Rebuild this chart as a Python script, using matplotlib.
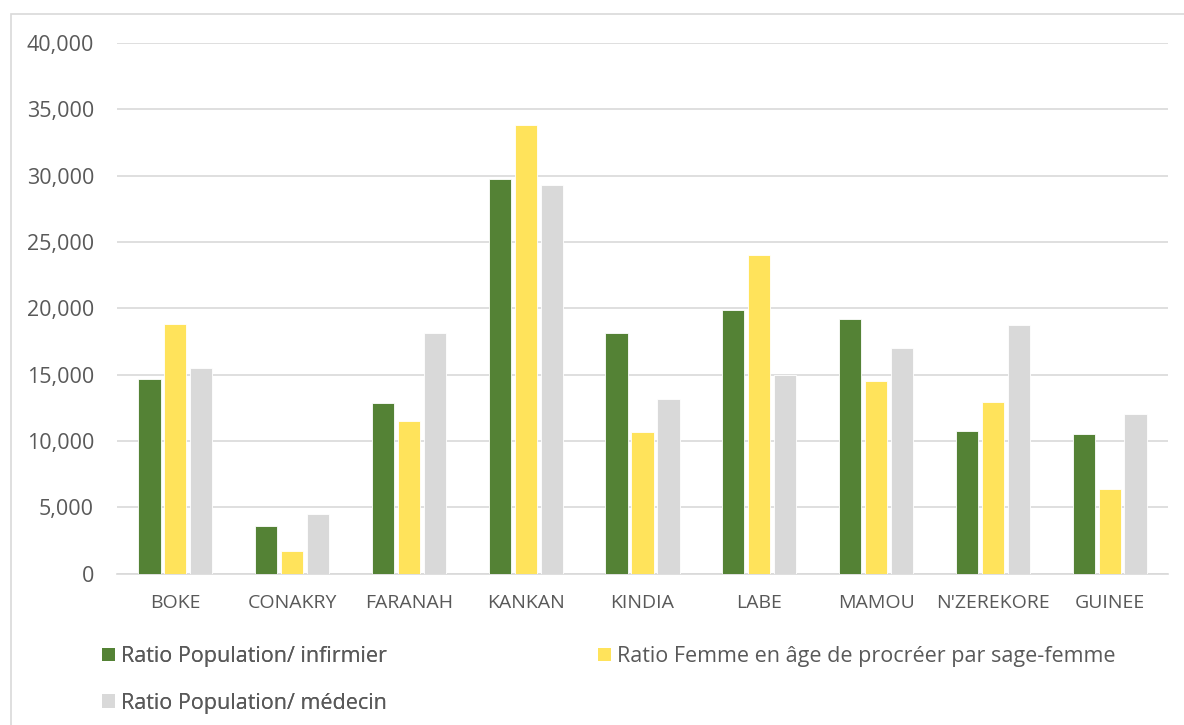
import matplotlib
matplotlib.use("Agg")
import matplotlib.pyplot as plt
import numpy as np
from matplotlib.patches import Patch, Rectangle

regions = ["BOKE", "CONAKRY", "FARANAH", "KANKAN", "KINDIA", "LABE",
           "MAMOU", "N'ZEREKORE", "GUINEE"]
pop_per_nurse = [14630, 3550, 12890, 29730, 18130, 19840, 19210, 10720, 10500]
women_per_midwife = [18830, 1690, 11510, 33810, 10670, 24040, 14500, 12940, 6390]
pop_per_doctor = [15480, 4460, 18100, 29300, 13190, 14980, 16990, 18760, 12060]

series_labels = ["Ratio Population/ infirmier",
                 "Ratio Femme en âge de procréer par sage-femme",
                 "Ratio Population/ médecin"]
colors = ["#548235", "#FFE35B", "#D9D9D9"]
yticks = [0, 5000, 10000, 15000, 20000, 25000, 30000, 35000, 40000]

plt.rcParams["font.family"] = ["Open Sans", "DejaVu Sans"]
text_color = "#595959"
grid_color = "#D9D9D9"

W, H = 1184, 725
fig = plt.figure(figsize=(W / 100, H / 100), dpi=100)
fig.patch.set_facecolor("white")

# chart frame (top and left edges visible)
fig.add_artist(Rectangle((11 / W, -0.05), 1.2, (H - 14) / H + 0.05,
                         transform=fig.transFigure, fill=False,
                         edgecolor=grid_color, linewidth=1.2))

ax = fig.add_axes([117 / W, 1 - 573.5 / H, (1168 - 117) / W, (573.5 - 43) / H])
x = np.arange(len(regions))
pitch = 0.222
width = 0.19
for i, (vals, c) in enumerate(zip([pop_per_nurse, women_per_midwife, pop_per_doctor], colors)):
    ax.bar(x + (i - 1) * pitch, vals, width=width, color=c,
           edgecolor="white", linewidth=0.6, zorder=3, label=series_labels[i])

ax.set_xlim(-0.5, len(regions) - 0.5)
ax.set_ylim(0, 40000)
ax.set_yticks(yticks)
ax.set_yticklabels([f"{v:,}" for v in yticks])
ax.set_xticks(x)
ax.set_xticklabels(regions)
ax.yaxis.grid(True, color=grid_color, linewidth=1.2, zorder=0)
ax.set_axisbelow(True)
for s in ["top", "right", "left"]:
    ax.spines[s].set_visible(False)
ax.spines["bottom"].set_color(grid_color)
ax.spines["bottom"].set_linewidth(1.2)
ax.tick_params(axis="both", length=0, colors=text_color)
ax.tick_params(axis="y", pad=16.5, labelsize=15.5)
ax.tick_params(axis="x", pad=15, labelsize=14)

handles = [Patch(facecolor=c, edgecolor="none") for c in colors]
leg_kw = dict(frameon=False, fontsize=15.5, handlelength=0.6, handleheight=0.6,
              handletextpad=0.3, labelspacing=1.2, labelcolor=text_color,
              loc="upper left", borderaxespad=0, borderpad=0)
leg1 = fig.legend([handles[0], handles[2]], [series_labels[0], series_labels[2]],
                  bbox_to_anchor=(102 / W, 1 - 646 / H), **leg_kw)
fig.add_artist(leg1)
leg2 = fig.legend([handles[1]], [series_labels[1]],
                  bbox_to_anchor=(598 / W, 1 - 646 / H), **leg_kw)

fig.savefig("out.png", dpi=100, facecolor="white")
